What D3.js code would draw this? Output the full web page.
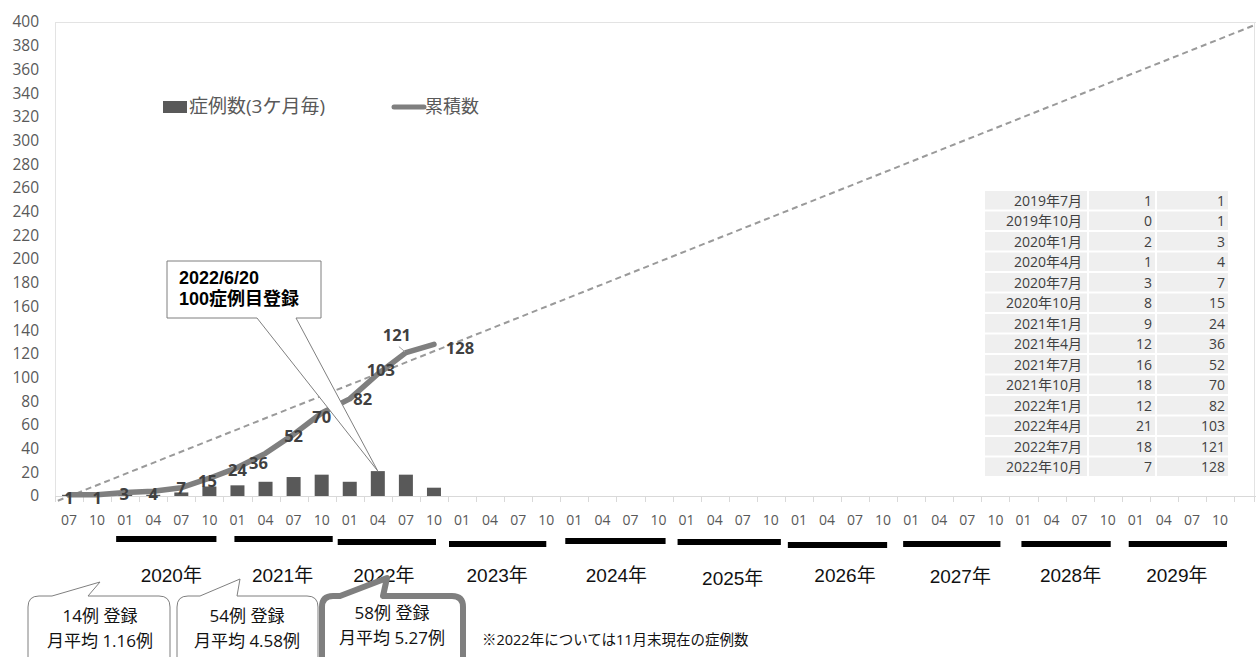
<!DOCTYPE html>
<html>
<head>
<meta charset="utf-8">
<script src="https://cdn.jsdelivr.net/npm/d3@7/dist/d3.min.js"></script>
<style>
  html, body { margin: 0; padding: 0; background: #fff; }
  svg { display: block; }
  text { font-family: "Open Sans", "Noto Sans CJK JP", sans-serif; }
</style>
</head>
<body>
<svg id="chart" width="1256" height="657"></svg>
<script>
// ---- data ----
const firstYearMonths = ["07", "10"];            // 2019
const yearMonths = ["01", "04", "07", "10"];     // 2020 onward
const years = [2020, 2021, 2022, 2023, 2024, 2025, 2026, 2027, 2028, 2029];

const periods = ["2019年7月", "2019年10月", "2020年1月", "2020年4月", "2020年7月", "2020年10月",
  "2021年1月", "2021年4月", "2021年7月", "2021年10月", "2022年1月", "2022年4月", "2022年7月", "2022年10月"];
const quarterCases = [1, 0, 2, 1, 3, 8, 9, 12, 16, 18, 12, 21, 18, 7];
const cumulative = [1, 1, 3, 4, 7, 15, 24, 36, 52, 70, 82, 103, 121, 128];

// linear trend of the cumulative count (quarter index, value)
const trendQuarter = [-0.4, 42.3];
const trendValue = [-4, 398];

const yTicks = [0, 20, 40, 60, 80, 100, 120, 140, 160, 180, 200, 220, 240, 260, 280, 300, 320, 340, 360, 380, 400];

const summaryCases = [14, 54, 58];
const summaryAvg = ["1.16", "4.58", "5.27"];

const milestoneLines = ["2022/6/20", "100症例目登録"];
const milestoneIndex = 11;   // quarter containing the 100th case

// ---- build categories ----
const categories = [];
firstYearMonths.forEach(m => categories.push({ key: "2019-" + m, label: m, year: 2019 }));
years.forEach(yr => yearMonths.forEach(m => categories.push({ key: yr + "-" + m, label: m, year: yr })));

const svg = d3.select("#chart");
const W = 1256, H = 657;
const plotLeft = 55, plotRight = 1234, plotTop = 22, plotBase = 496;

const x = d3.scaleBand().domain(categories.map(d => d.key)).range([plotLeft, plotRight]).padding(0);
const bw = x.bandwidth();
const xi = d3.scaleLinear().domain([0, categories.length - 1])
  .range([x(categories[0].key) + bw / 2, x(categories[categories.length - 1].key) + bw / 2]);
const y = d3.scaleLinear().domain([0, 400]).range([plotBase, plotTop]);

const grey = "#595959";
const lineGrey = "#7f7f7f";

// plot frame
svg.append("line").attr("x1", plotLeft).attr("x2", W).attr("y1", plotTop + 0.5).attr("y2", plotTop + 0.5)
  .attr("stroke", "#e3e3e3").attr("stroke-width", 1);
svg.append("line").attr("x1", plotLeft + 0.5).attr("x2", plotLeft + 0.5).attr("y1", plotTop).attr("y2", plotBase)
  .attr("stroke", "#e3e3e3").attr("stroke-width", 1);
svg.append("line").attr("x1", W - 1.5).attr("x2", W - 1.5).attr("y1", plotTop).attr("y2", plotBase)
  .attr("stroke", "#e3e3e3").attr("stroke-width", 1);

// y axis labels
const yAxis = d3.axisLeft(y).tickValues(yTicks).tickSize(0).tickPadding(0);
const gy = svg.append("g").attr("transform", `translate(39,0)`).call(yAxis);
gy.select(".domain").remove();
gy.selectAll("text").attr("fill", grey).style("font-size", "15.5px")
  .style("font-family", "'Open Sans', sans-serif");

// x axis
const xAxis = d3.axisBottom(x).tickSize(0).tickFormat((d, i) => categories[i].label).tickPadding(19);
const gx = svg.append("g").attr("transform", `translate(0,${plotBase})`).call(xAxis);
gx.select(".domain").remove();
gx.selectAll("text").attr("fill", grey).style("font-size", "14px")
  .style("font-family", "'Open Sans', sans-serif");
svg.append("line").attr("x1", plotLeft).attr("x2", W).attr("y1", plotBase + 0.5).attr("y2", plotBase + 0.5)
  .attr("stroke", "#d9d9d9");
const boundaries = categories.map(d => x(d.key)).concat([plotRight, W - 2]);
svg.append("g").selectAll("line").data(boundaries).join("line")
  .attr("x1", d => Math.round(d) + 0.5).attr("x2", d => Math.round(d) + 0.5)
  .attr("y1", plotBase).attr("y2", plotBase + 6)
  .attr("stroke", "#d9d9d9");

// year bars and labels under the axis (hand-placed shapes, offsets from each year's band)
const yearBand = yr => {
  const ks = categories.filter(c => c.year === yr).map(c => x(c.key));
  return [d3.min(ks), d3.max(ks) + bw];
};
const yearBarInset = [[5, -7, 536], [11, -3, 536], [2, -12, 539], [1, -14, 541], [5, -7, 538],
  [5, -4, 539], [3, -10, 542], [6, -9, 541], [12, -11, 541], [7, -7, 541]];
const yearLabelNudge = [[4, 0], [3, 0], [-8, 0], [-7, 0], [0, 0], [4, 3], [4, 0], [7, 1], [5, 0], [-1, 0]];
svg.append("g").selectAll("rect").data(years).join("rect")
  .attr("x", (d, i) => yearBand(d)[0] + yearBarInset[i][0])
  .attr("width", (d, i) => yearBand(d)[1] + yearBarInset[i][1] - yearBand(d)[0] - yearBarInset[i][0])
  .attr("y", (d, i) => yearBarInset[i][2]).attr("height", 6).attr("fill", "#000");
svg.append("g").selectAll("text").data(years).join("text")
  .attr("x", (d, i) => (yearBand(d)[0] + yearBand(d)[1]) / 2 + yearLabelNudge[i][0])
  .attr("y", (d, i) => 575 + yearLabelNudge[i][1])
  .attr("text-anchor", "middle").attr("dominant-baseline", "central")
  .attr("fill", "#111")
  .style("font-family", "'Liberation Sans', 'Noto Sans CJK JP', sans-serif")
  .style("font-size", "19px")
  .text(d => d + "年");

// trend line (dashed)
svg.append("line")
  .attr("x1", xi(trendQuarter[0])).attr("y1", y(trendValue[0]))
  .attr("x2", xi(trendQuarter[1])).attr("y2", y(trendValue[1]))
  .attr("stroke", "#9a9a9a").attr("stroke-width", 2).attr("stroke-dasharray", "6,4");

// quarterly case bars
const shown = periods.map((p, i) => ({ key: categories[i].key, i, cases: quarterCases[i], cum: cumulative[i] }));
svg.append("g").selectAll("rect").data(shown).join("rect")
  .attr("x", d => x(d.key) + bw / 2 - 7)
  .attr("width", 14)
  .attr("y", d => y(d.cases))
  .attr("height", d => plotBase - y(d.cases))
  .attr("fill", grey);

// cumulative line
const line = d3.line().x(d => x(d.key) + bw / 2).y(d => y(d.cum));
svg.append("path").datum(shown).attr("d", line)
  .attr("fill", "none").attr("stroke", lineGrey).attr("stroke-width", 5.5)
  .attr("stroke-linejoin", "round").attr("stroke-linecap", "round");

// milestone callout (white wedge covers what lies beneath)
{
  const tipX = x(categories[milestoneIndex].key) + bw / 2;
  const tipY = y(quarterCases[milestoneIndex]);
  const bx0 = 167, bx1 = 321, by0 = 261, by1 = 318;
  const p = `M${bx0},${by0} H${bx1} V${by1} H296 L${tipX},${tipY} L257,${by1} H${bx0} Z`;
  svg.append("path").attr("d", p).attr("fill", "#fff").attr("stroke", lineGrey).attr("stroke-width", 1);
  svg.append("g").selectAll("text").data(milestoneLines).join("text")
    .attr("x", 179).attr("y", (d, i) => 278 + i * 21)
    .attr("dominant-baseline", "central")
    .attr("fill", "#000").style("font-size", "18px").style("font-weight", "bold")
    .style("font-family", "'Liberation Sans', 'Noto Sans CJK JP', sans-serif")
    .text(d => d);
}

// data labels on the cumulative line
const labelNudge = [[0, 3], [0, 3], [-1, 1], [0, 2], [0, 0], [-2, 2], [0, 2], [-7, 9],
  [0, 1], [0, 3], [13, 0], [3, -4], [-9, -18], [26, 3]];
svg.append("line")
  .attr("x1", x(shown[12].key) + bw / 2 - 7).attr("y1", y(cumulative[12]) - 6)
  .attr("x2", x(shown[12].key) + bw / 2 - 1).attr("y2", y(cumulative[12]) - 1)
  .attr("stroke", "#a6a6a6").attr("stroke-width", 1);
svg.append("g").selectAll("text").data(shown).join("text")
  .attr("x", d => x(d.key) + bw / 2 + labelNudge[d.i][0])
  .attr("y", d => y(d.cum) + labelNudge[d.i][1])
  .attr("text-anchor", "middle").attr("dominant-baseline", "central")
  .attr("fill", "#404040").style("font-size", "16.5px").style("font-weight", "bold")
  .text(d => d.cum);

// legend
svg.append("rect").attr("x", 163).attr("y", 101).attr("width", 24).attr("height", 12).attr("fill", grey);
svg.append("text").attr("x", 189).attr("y", 106).attr("dominant-baseline", "central")
  .attr("fill", grey).style("font-size", "19px").text("症例数(3ケ月毎)");
svg.append("line").attr("x1", 394).attr("x2", 424).attr("y1", 107).attr("y2", 107)
  .attr("stroke", lineGrey).attr("stroke-width", 5).attr("stroke-linecap", "round");
svg.append("text").attr("x", 425).attr("y", 106).attr("dominant-baseline", "central")
  .attr("fill", grey).style("font-size", "18px").text("累積数");

// data table
{
  const cols = [[985, 1087], [1089, 1155], [1157, 1228]];
  const rowTop = 191, rowH = 20.5;
  const tg = svg.append("g");
  periods.forEach((p, r) => {
    const vals = [p, quarterCases[r], cumulative[r]];
    cols.forEach((c, k) => {
      tg.append("rect").attr("x", c[0]).attr("y", rowTop + r * rowH)
        .attr("width", c[1] - c[0]).attr("height", rowH - 2).attr("fill", "#efefef");
      tg.append("text").attr("x", c[1] - (k === 0 ? 5 : 3)).attr("y", rowTop + r * rowH + (rowH - 2) / 2)
        .attr("text-anchor", "end").attr("dominant-baseline", "central")
        .attr("fill", "#404040").style("font-size", "14px").text(vals[k]);
    });
  });
}

// yearly summary bubbles
{
  const boxes = [
    { x0: 28, x1: 170, p0: 52, p1: 88, tip: [100, 582], sw: 1, cx: 100, ty: 0 },
    { x0: 177, x1: 318, p0: 200, p1: 237, tip: [240, 579], sw: 1, cx: 247, ty: 0 },
    { x0: 322, x1: 463, p0: 340, p1: 383, tip: [387, 578], sw: 6, cx: 392, ty: -3 }
  ];
  const by = 596, bb = 700, r = 11;
  boxes.forEach((b, i) => {
    const p = `M${b.x0},${bb} V${by + r} Q${b.x0},${by} ${b.x0 + r},${by} H${b.p0} L${b.tip[0]},${b.tip[1]} L${b.p1},${by} H${b.x1 - r} Q${b.x1},${by} ${b.x1},${by + r} V${bb}`;
    svg.append("path").attr("d", p).attr("fill", "#fff").attr("stroke", lineGrey)
      .attr("stroke-width", b.sw).attr("stroke-linejoin", "round");
    const lines = [`${summaryCases[i]}例 登録`, `月平均 ${summaryAvg[i]}例`];
    svg.append("g").selectAll("text").data(lines).join("text")
      .attr("x", b.cx).attr("y", (d, k) => 615 + b.ty + k * 25)
      .attr("text-anchor", "middle").attr("dominant-baseline", "central")
      .attr("fill", "#111").style("font-size", "17px").text(d => d);
  });
}

svg.append("text").attr("x", 482).attr("y", 639).attr("dominant-baseline", "central")
  .attr("fill", "#111").style("font-size", "14.5px").text("※2022年については11月末現在の症例数");
</script>
</body>
</html>
